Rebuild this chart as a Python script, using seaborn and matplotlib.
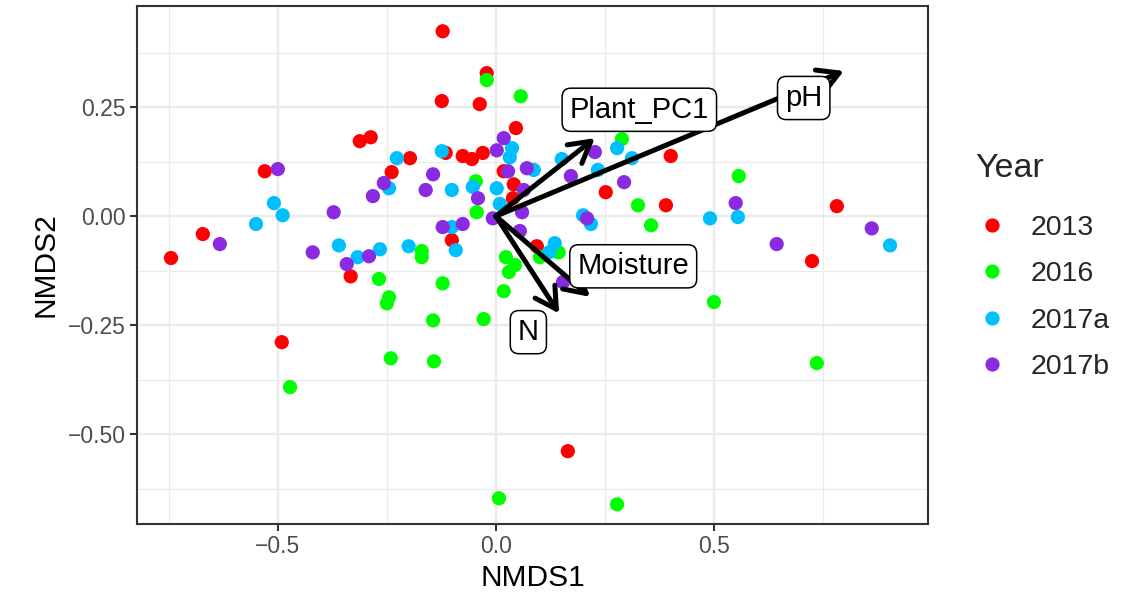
import numpy as np
import pandas as pd
import matplotlib
matplotlib.use("Agg")
import matplotlib.pyplot as plt
import seaborn as sns

# ---------------- data ----------------
x_2013 = [-0.122, -0.021, -0.124, -0.037, 0.046, -0.312, -0.287, -0.530, -0.239, -0.197,
          -0.115, -0.076, -0.055, -0.030, 0.018, 0.041, 0.039, 0.252, 0.401, 0.390,
          0.782, 0.725, 0.094, -0.101, -0.333, -0.672, -0.745, -0.491, 0.165]
y_2013 = [0.424, 0.328, 0.264, 0.257, 0.202, 0.172, 0.181, 0.103, 0.101, 0.133,
          0.145, 0.138, 0.131, 0.145, 0.103, 0.073, 0.041, 0.055, 0.138, 0.025,
          0.023, -0.103, -0.069, -0.055, -0.138, -0.041, -0.096, -0.289, -0.539]

x_2016 = [-0.021, 0.057, 0.289, 0.557, 0.326, 0.356, -0.046, -0.044, 0.023, 0.044,
          0.030, 0.018, 0.101, 0.144, -0.028, -0.122, -0.170, -0.170, -0.268, -0.245,
          -0.250, -0.144, -0.241, -0.142, -0.472, 0.007, 0.278, 0.500, 0.736]
y_2016 = [0.312, 0.275, 0.177, 0.092, 0.025, -0.021, 0.080, 0.009, -0.094, -0.112,
          -0.128, -0.172, -0.094, -0.083, -0.236, -0.154, -0.080, -0.094, -0.144, -0.186,
          -0.200, -0.239, -0.326, -0.333, -0.392, -0.647, -0.661, -0.197, -0.337]

x_2017a = [-0.124, -0.227, 0.037, 0.032, -0.245, -0.101, -0.053, 0.002, 0.009, 0.087,
           0.151, 0.278, 0.312, 0.234, 0.200, 0.218, 0.491, 0.555, 0.904, 0.135,
           0.122, -0.101, -0.092, -0.200, -0.266, -0.317, -0.360, -0.509, -0.489, -0.550]
y_2017a = [0.149, 0.133, 0.156, 0.135, 0.064, 0.060, 0.067, 0.064, 0.028, 0.106,
           0.131, 0.156, 0.133, 0.106, 0.002, -0.018, -0.005, -0.002, -0.067, -0.062,
           -0.083, -0.025, -0.078, -0.069, -0.076, -0.094, -0.067, 0.030, 0.002, -0.018]

x_2017b = [0.018, 0.002, -0.257, -0.282, -0.500, -0.144, -0.161, -0.372, -0.041, 0.028,
           0.071, 0.064, -0.007, 0.060, 0.055, -0.122, -0.076, 0.172, 0.227, 0.294,
           0.209, 0.550, 0.644, 0.862, 0.154, -0.420, -0.291, -0.342, -0.633]
y_2017b = [0.179, 0.151, 0.076, 0.046, 0.108, 0.096, 0.060, 0.009, 0.041, 0.103,
           0.110, 0.060, -0.005, 0.009, -0.034, -0.025, -0.018, 0.092, 0.147, 0.078,
           -0.005, 0.030, -0.064, -0.028, -0.151, -0.083, -0.092, -0.110, -0.064]

years = ["2013", "2016", "2017a", "2017b"]
year_colors = ["#FF0000", "#00FF00", "#00BFFF", "#8A2BE2"]

env_names = ["pH", "Plant_PC1", "Moisture", "N"]
env_x = [0.798, 0.227, 0.216, 0.145]
env_y = [0.333, 0.179, -0.185, -0.223]
env_label_x = [0.706, 0.329, 0.315, 0.0745]
env_label_y = [0.271, 0.244, -0.115, -0.266]

x_ticks = [-0.5, 0.0, 0.5]
x_tick_labels = ["\u22120.5", "0.0", "0.5"]
y_ticks = [-0.50, -0.25, 0.00, 0.25]
y_tick_labels = ["\u22120.50", "\u22120.25", "0.00", "0.25"]

# ---------------- frame ----------------
df = pd.concat([
    pd.DataFrame({"NMDS1": x_2013, "NMDS2": y_2013, "Year": "2013"}),
    pd.DataFrame({"NMDS1": x_2016, "NMDS2": y_2016, "Year": "2016"}),
    pd.DataFrame({"NMDS1": x_2017a, "NMDS2": y_2017a, "Year": "2017a"}),
    pd.DataFrame({"NMDS1": x_2017b, "NMDS2": y_2017b, "Year": "2017b"}),
], ignore_index=True)

sns.set_theme(style="white")
plt.rcParams["font.family"] = ["Liberation Sans", "DejaVu Sans"]

fig = plt.figure(figsize=(11.44, 5.97), dpi=100)
ax = fig.add_axes([137 / 1144, 1 - 524 / 597, (928 - 137) / 1144, (524 - 6) / 597])

sns.scatterplot(data=df, x="NMDS1", y="NMDS2", hue="Year", hue_order=years,
                palette=dict(zip(years, year_colors)), s=105, linewidth=0,
                ax=ax, zorder=3)

for name, ex, ey, lx, ly in zip(env_names, env_x, env_y, env_label_x, env_label_y):
    ax.annotate("", xy=(ex, ey), xytext=(0, 0),
                arrowprops=dict(arrowstyle="->,head_length=15,head_width=8.5",
                                mutation_scale=1, lw=3.6, color="black",
                                shrinkA=0, shrinkB=0),
                zorder=4)
    ax.text(lx, ly, name, ha="center", va="center", fontsize=21, color="black",
            zorder=5,
            bbox=dict(boxstyle="round,pad=0.26,rounding_size=0.3", fc="white",
                      ec="black", lw=1.1))

ax.set_xlim(-0.823, 0.991)
ax.set_ylim(-0.706, 0.482)
ax.set_xticks(x_ticks)
ax.set_xticklabels(x_tick_labels)
ax.set_yticks(y_ticks)
ax.set_yticklabels(y_tick_labels)
ax.set_xticks([-0.75, -0.25, 0.25, 0.75], minor=True)
ax.set_yticks([-0.625, -0.375, -0.125, 0.125, 0.375], minor=True)

ax.grid(True, which="major", color="#EBEBEB", lw=1.7, zorder=0)
ax.grid(True, which="minor", color="#EBEBEB", lw=0.9, zorder=0)
ax.set_axisbelow(True)
ax.tick_params(axis="both", which="major", length=5, width=1.5, color="#333333",
               labelsize=16.5, labelcolor="#4D4D4D", pad=3, bottom=True, left=True)
ax.tick_params(axis="both", which="minor", length=0)
for sp in ax.spines.values():
    sp.set_color("#333333")
    sp.set_linewidth(1.5)

ax.set_xlabel("NMDS1", fontsize=21.5, color="black", labelpad=4)
ax.set_ylabel("NMDS2", fontsize=21.5, color="black", labelpad=6)

handles, labels = ax.get_legend_handles_labels()
ax.legend_.remove()
leg = fig.legend(handles, labels, title="Year", loc="upper left",
                 bbox_to_anchor=(964 / 1144, 1 - 142 / 597), frameon=False,
                 fontsize=20.5, title_fontsize=24.5, markerscale=1.0,
                 labelspacing=0.72, handlelength=1.2, handletextpad=0.75,
                 borderaxespad=0)
leg._legend_box.align = "left"
leg._legend_box.sep = 22

fig.savefig("out.png", dpi=100)
